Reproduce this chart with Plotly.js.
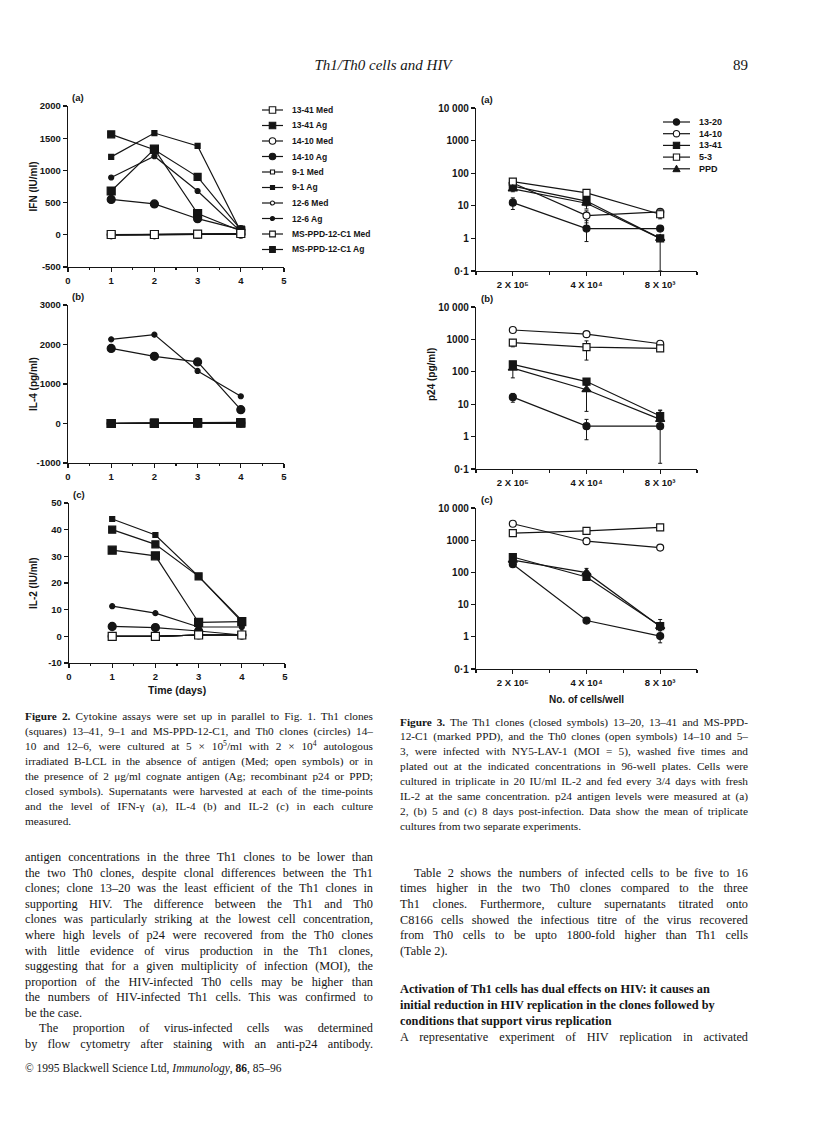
<!DOCTYPE html>
<html>
<head>
<meta charset="utf-8">
<script src="https://cdn.plot.ly/plotly-3.0.1.min.js"></script>
<style>
  body { margin: 0; background: #fff; }
  #page { position: relative; width: 816px; height: 1128px; overflow: hidden; background: #fff; }
  #chart { position: absolute; left: 0; top: 0; width: 816px; height: 1128px; }
  .ln { position: absolute; font-family: "Liberation Serif", "Times New Roman", serif; color: #151515; white-space: nowrap; }
  .jus { white-space: normal; text-align: justify; text-align-last: justify; }
  .ln sup { font-size: 0.68em; line-height: 0; vertical-align: 0.5em; }
</style>
</head>
<body>
<div id="page"><div id="chart"></div></div>
<script>
// ===================== DATA =====================
// Figure 2 : cytokine time course
const days = [1, 2, 3, 4];
const dayTicks = [0, 1, 2, 3, 4, 5];
const fig2Names = ["13-41 Med", "13-41 Ag", "14-10 Med", "14-10 Ag", "9-1 Med", "9-1 Ag",
                   "12-6 Med", "12-6 Ag", "MS-PPD-12-C1 Med", "MS-PPD-12-C1 Ag"];
const ifnValues = [
  [5, 5, 10, 20],
  [680, 1330, 330, 60],
  [0, 0, 5, 10],
  [550, 480, 250, 80],
  [0, 5, 5, 10],
  [1210, 1580, 1380, 50],
  [0, 0, 5, 10],
  [890, 1220, 680, 50],
  [0, 0, 10, 20],
  [1560, 1320, 900, 80]
];
const il4Values = [
  [0, 0, 10, 10],
  [0, 10, 20, 20],
  [0, 0, 10, 10],
  [1900, 1700, 1560, 350],
  [0, 0, 0, 0],
  [0, 10, 20, 20],
  [0, 0, 0, 10],
  [2130, 2250, 1330, 690],
  [0, 0, 10, 10],
  [10, 20, 30, 30]
];
const il2Values = [
  [0, 0, 0.5, 0.5],
  [32.3, 30.2, 5.2, 5.5],
  [0, 0, 0.5, 0.5],
  [3.7, 3.3, 2, 0.5],
  [0, 0, 0.5, 0.5],
  [44, 38, 22.5, 6],
  [0, 0, 0.5, 0.5],
  [11.3, 8.7, 3.5, 3.5],
  [0, 0, 0.5, 0.5],
  [40, 34.5, 22.5, 5.5]
];
const ifnTicks = [-500, 0, 500, 1000, 1500, 2000];
const il4Ticks = [-1000, 0, 1000, 2000, 3000];
const il2Ticks = [-10, 0, 10, 20, 30, 40, 50];
const fig2YTitles = ["IFN (IU/ml)", "IL-4 (pg/ml)", "IL-2 (IU/ml)"];

// Figure 3 : p24 vs cells/well
const cellLabels = ["2 X 10⁵", "4 X 10⁴", "8 X 10³"];
const fig3Names = ["13-20", "14-10", "13-41", "5-3", "PPD"];
const day2Values = [[12.5, 2, 2], [50, 5, 6.5], [40, 14, 1], [55, 25, 5.5], [33, 12, 1]];
const day2ErrPlus = [[5, 1.5, 0], [6, 2, 1], [6, 4, 0], [8, 5, 2], [6, 6, 0]];
const day2ErrMinus = [[4.8, 1.2, 0], [6, 2, 1], [6, 4, 0.9], [8, 5, 1.5], [6, 4, 0]];
const day5Values = [[16.5, 2.1, 2.1], [1950, 1450, 735], [170, 50, 4.3], [790, 580, 530], [130, 28, 3.4]];
const day5ErrPlus = [[5, 1.3, 4.2], [0, 150, 0], [20, 5, 2.3], [200, 320, 0], [0, 10, 0]];
const day5ErrMinus = [[5, 1.3, 1.95], [0, 150, 0], [20, 5, 1], [200, 350, 0], [65, 22, 0]];
const day8Values = [[180, 3.2, 1.05], [3240, 930, 590], [300, 72, 2.15], [1650, 1950, 2500], [240, 98, 2.1]];
const day8ErrPlus = [[0, 0, 0.5], [0, 0, 0], [0, 0, 1.3], [0, 0, 0], [0, 35, 0]];
const day8ErrMinus = [[0, 0, 0.4], [0, 200, 0], [0, 0, 0.6], [0, 0, 0], [0, 0, 0]];
const p24Ticks = [0.1, 1, 10, 100, 1000, 10000];
const p24TickLabels = ["0·1", "1", "10", "100", "1000", "10 000"];

// ===================== STYLE / LAYOUT =====================
const FONT = "Liberation Sans, Arial, Helvetica, sans-serif";
const INK = "#151515";
const W = 816, H = 1128;
const px = v => v / W;
const py = v => 1 - v / H;
const tf = (size) => ({family: FONT, size: size, color: INK, weight: "bold"});

const fig2Symbols = ["square", "square", "circle", "circle", "square", "square", "circle", "circle", "square", "square"];
const fig2Filled = [false, true, false, true, false, true, false, true, false, true];
const fig2Sizes = [8, 8, 8, 8, 5, 5, 5, 5, 7, 7];
const fig2Order = [
  [1, 3, 5, 7, 9, 2, 4, 6, 8, 0],
  [0, 2, 4, 6, 8, 3, 7, 5, 9, 1],
  [1, 3, 5, 7, 9, 2, 4, 6, 8, 0]
];
const fig2Boxes = [{l: 68, r: 284, t: 106, b: 267}, {l: 68, r: 284, t: 305, b: 463}, {l: 69, r: 285, t: 503, b: 663}];

const fig3Symbols = ["circle", "circle", "square", "square", "triangle-up"];
const fig3Filled = [true, false, true, false, true];
const fig3Sizes = [7, 7, 7, 7, 8];
const fig3Boxes = [{l: 476, r: 697, t: 108, b: 271}, {l: 476, r: 697, t: 307, b: 469}, {l: 476, r: 697, t: 508, b: 669}];

const traces = [], shapes = [], annotations = [];
const layout = {
  width: W, height: H, margin: {l: 0, r: 0, t: 0, b: 0},
  paper_bgcolor: "rgba(0,0,0,0)", plot_bgcolor: "rgba(0,0,0,0)",
  showlegend: false, shapes: shapes, annotations: annotations
};

function axisBase() {
  return {
    showline: true, linecolor: INK, linewidth: 1.2,
    ticks: "outside", ticklen: 4, tickwidth: 1.1, tickcolor: INK,
    showgrid: false, zeroline: false, fixedrange: true,
    tickfont: tf(9.5)
  };
}
function note(text, x, y, opts) {
  annotations.push(Object.assign({
    xref: "paper", yref: "paper", x: px(x), y: py(y), text: text, showarrow: false,
    xanchor: "center", yanchor: "middle", font: tf(9.5)
  }, opts || {}));
}

// ---- Figure 2 panels
const fig2Values = [ifnValues, il4Values, il2Values];
const fig2YTicks = [ifnTicks, il4Ticks, il2Ticks];
const panelLetters = ["(a)", "(b)", "(c)"];
fig2Values.forEach((vals, p) => {
  const k = p + 1;
  const xa = k === 1 ? "x" : "x" + k, ya = k === 1 ? "y" : "y" + k;
  const box = fig2Boxes[p];
  const yt = fig2YTicks[p];
  layout["xaxis" + (k === 1 ? "" : k)] = Object.assign(axisBase(), {
    domain: [px(box.l), px(box.r)], anchor: ya, range: [dayTicks[0], dayTicks[dayTicks.length - 1]],
    tickmode: "array", tickvals: dayTicks, ticktext: dayTicks.map(String),
    minor: {tickmode: "linear", tick0: 0.5, dtick: 1, ticks: "outside", ticklen: 2, tickcolor: INK, showgrid: false}
  });
  layout["yaxis" + (k === 1 ? "" : k)] = Object.assign(axisBase(), {
    domain: [py(box.b), py(box.t)], anchor: xa, range: [yt[0], yt[yt.length - 1]],
    tickmode: "array", tickvals: yt, ticktext: yt.map(String)
  });
  fig2Order[p].forEach(i => {
    traces.push({
      type: "scatter", mode: "lines+markers", x: days, y: vals[i], name: fig2Names[i],
      xaxis: xa, yaxis: ya, cliponaxis: false, hoverinfo: "skip",
      line: {color: INK, width: 1.2},
      marker: {symbol: fig2Symbols[i], size: fig2Sizes[i], color: fig2Filled[i] ? INK : "#fff",
               line: {color: INK, width: 1.2}}
    });
  });
  note(panelLetters[p], box.l + 2, box.t - 1, {xanchor: "left", yanchor: "bottom"});
  note(fig2YTitles[p], 33, (box.t + box.b) / 2, {textangle: -90, font: tf(10)});
});
note("Time (days)", 177, 690, {font: tf(10.5)});

// ---- Figure 3 panels
const fig3Values = [day2Values, day5Values, day8Values];
const fig3Plus = [day2ErrPlus, day5ErrPlus, day8ErrPlus];
const fig3Minus = [day2ErrMinus, day5ErrMinus, day8ErrMinus];
const cellX = cellLabels.map((_, i) => i + 1);
fig3Values.forEach((vals, p) => {
  const k = p + 4;
  const xa = "x" + k, ya = "y" + k;
  const box = fig3Boxes[p];
  layout["xaxis" + k] = Object.assign(axisBase(), {
    domain: [px(box.l), px(box.r)], anchor: ya, range: [0.5, cellX.length + 0.5],
    tickmode: "array", tickvals: cellX, ticktext: cellLabels,
    minor: {tickmode: "linear", tick0: 0.5, dtick: 1, ticks: "outside", ticklen: 3, tickcolor: INK, showgrid: false}
  });
  layout["yaxis" + k] = Object.assign(axisBase(), {
    domain: [py(box.b), py(box.t)], anchor: xa, type: "log", range: [-1, 4],
    tickmode: "array", tickvals: p24Ticks, ticktext: p24TickLabels,
    tickfont: tf(10)
  });
  vals.forEach((v, i) => {
    traces.push({
      type: "scatter", mode: "lines+markers", x: cellX, y: v, name: fig3Names[i],
      xaxis: xa, yaxis: ya, cliponaxis: false, hoverinfo: "skip",
      error_y: {type: "data", symmetric: false, array: fig3Plus[p][i], arrayminus: fig3Minus[p][i],
                color: INK, thickness: 1, width: 2},
      line: {color: INK, width: 1.2},
      marker: {symbol: fig3Symbols[i], size: fig3Sizes[i], color: fig3Filled[i] ? INK : "#fff",
               line: {color: INK, width: 1.2}}
    });
  });
  note(panelLetters[p], box.l + 3, box.t - 1, {xanchor: "left", yanchor: "bottom"});
});
note("p24 (pg/ml)", 432, 375, {textangle: -90, font: tf(10)});
note("No. of cells/well", 586, 699, {font: tf(10)});

// ---- Legends (key drawn from the series name / style lists)
function legend(names, symbols, filled, sizes, x0, len, textX, yTop, dy, fsize) {
  names.forEach((n, i) => {
    const yc = yTop + i * dy, cx = x0 + len / 2, s = sizes[i] * 0.45;
    shapes.push({type: "line", xref: "paper", yref: "paper", x0: px(x0), x1: px(x0 + len),
                 y0: py(yc), y1: py(yc), line: {color: INK, width: 1.2}});
    const fill = filled[i] ? INK : "#fff";
    if (symbols[i] === "circle") {
      shapes.push({type: "circle", xref: "paper", yref: "paper", x0: px(cx - s), x1: px(cx + s),
                   y0: py(yc + s), y1: py(yc - s), fillcolor: fill, line: {color: INK, width: 1.1}});
    } else if (symbols[i] === "square") {
      shapes.push({type: "rect", xref: "paper", yref: "paper", x0: px(cx - s), x1: px(cx + s),
                   y0: py(yc + s), y1: py(yc - s), fillcolor: fill, line: {color: INK, width: 1.1}});
    } else {
      const path = "M" + px(cx - s) + "," + py(yc + s * 0.8) + " L" + px(cx + s) + "," + py(yc + s * 0.8) +
                   " L" + px(cx) + "," + py(yc - s) + " Z";
      shapes.push({type: "path", xref: "paper", yref: "paper", path: path, fillcolor: fill, line: {color: INK, width: 1}});
    }
    note(n, textX, yc, {xanchor: "left", font: tf(fsize)});
  });
}
legend(fig2Names, fig2Symbols, fig2Filled, fig2Sizes.map(s => s * 0.9), 262, 21, 290, 110, 15.5, 8.5);
legend(fig3Names, fig3Symbols, fig3Filled, fig3Sizes, 663, 27, 697, 122, 11.7, 9);

Plotly.newPlot("chart", traces, layout, {staticPlot: true, displayModeBar: false});

// ===================== PAGE TEXT =====================
const header = "Th1/Th0 cells and HIV";
const pageNumber = "89";
const fig2Caption = [
  "<b>Figure 2.</b> Cytokine assays were set up in parallel to Fig. 1. Th1 clones",
  "(squares) 13–41, 9–1 and MS-PPD-12-C1, and Th0 clones (circles) 14–",
  "10 and 12–6, were cultured at 5 × 10<sup>5</sup>/ml with 2 × 10<sup>4</sup> autologous",
  "irradiated B-LCL in the absence of antigen (Med; open symbols) or in",
  "the presence of 2 μg/ml cognate antigen (Ag; recombinant p24 or PPD;",
  "closed symbols). Supernatants were harvested at each of the time-points",
  "and the level of IFN-γ (a), IL-4 (b) and IL-2 (c) in each culture",
  "measured."
];
const fig3Caption = [
  "<b>Figure 3.</b> The Th1 clones (closed symbols) 13–20, 13–41 and MS-PPD-",
  "12-C1 (marked PPD), and the Th0 clones (open symbols) 14–10 and 5–",
  "3, were infected with NY5-LAV-1 (MOI = 5), washed five times and",
  "plated out at the indicated concentrations in 96-well plates. Cells were",
  "cultured in triplicate in 20 IU/ml IL-2 and fed every 3/4 days with fresh",
  "IL-2 at the same concentration. p24 antigen levels were measured at (a)",
  "2, (b) 5 and (c) 8 days post-infection. Data show the mean of triplicate",
  "cultures from two separate experiments."
];
const leftBody = [
  "antigen concentrations in the three Th1 clones to be lower than",
  "the two Th0 clones, despite clonal differences between the Th1",
  "clones; clone 13–20 was the least efficient of the Th1 clones in",
  "supporting HIV. The difference between the Th1 and Th0",
  "clones was particularly striking at the lowest cell concentration,",
  "where high levels of p24 were recovered from the Th0 clones",
  "with little evidence of virus production in the Th1 clones,",
  "suggesting that for a given multiplicity of infection (MOI), the",
  "proportion of the HIV-infected Th0 cells may be higher than",
  "the numbers of HIV-infected Th1 cells. This was confirmed to",
  "be the case.",
  "The proportion of virus-infected cells was determined",
  "by flow cytometry after staining with an anti-p24 antibody."
];
const rightBody = [
  "Table 2 shows the numbers of infected cells to be five to 16",
  "times higher in the two Th0 clones compared to the three",
  "Th1 clones. Furthermore, culture supernatants titrated onto",
  "C8166 cells showed the infectious titre of the virus recovered",
  "from Th0 cells to be upto 1800-fold higher than Th1 cells",
  "(Table 2)."
];
const heading = [
  "Activation of Th1 cells has dual effects on HIV: it causes an",
  "initial reduction in HIV replication in the clones followed by",
  "conditions that support virus replication"
];
const rightLast = ["A representative experiment of HIV replication in activated"];
const copyright = "© 1995 Blackwell Science Ltd, <i>Immunology</i>, <b>86</b>, 85–96";

const page = document.getElementById("page");
function addLine(html, x, w, yc, size, lh, opt) {
  opt = opt || {};
  const d = document.createElement("div");
  d.className = "ln" + (opt.justify ? " jus" : "");
  d.innerHTML = html;
  const ind = opt.indent || 0;
  d.style.left = (x + ind) + "px";
  d.style.width = (w - ind) + "px";
  d.style.top = (yc - lh / 2) + "px";
  d.style.lineHeight = lh + "px";
  d.style.fontSize = size + "px";
  if (opt.bold) d.style.fontWeight = "bold";
  if (opt.italic) d.style.fontStyle = "italic";
  if (opt.align) d.style.textAlign = opt.align;
  page.appendChild(d);
  if (opt.justify) {
    let ls = 0;
    while (d.offsetHeight > lh * 1.4 && ls > -1.2) { ls -= 0.05; d.style.letterSpacing = ls + "px"; }
  }
  return d;
}
function addBlock(lines, x, w, y0, dy, size, opt) {
  opt = opt || {};
  lines.forEach((t, i) => {
    const last = (opt.lastLines || [lines.length - 1]).indexOf(i) >= 0;
    addLine(t, x, w, y0 + i * dy, size, dy, {
      justify: !last || opt.justifyAll, indent: (opt.indents || {})[i] || 0, bold: opt.bold
    });
  });
}

const LEFT_X = 25, RIGHT_X = 400, COL_W = 348;
addLine(header, 228, 310, 65, 15, 18, {italic: true, align: "center"});
addLine(pageNumber, 700, RIGHT_X + COL_W - 700, 65, 15, 18, {align: "right"});
addBlock(fig2Caption, LEFT_X, COL_W, 716, 15, 11.3);
addBlock(fig3Caption, RIGHT_X, COL_W, 722, 14.9, 11.3);
addBlock(leftBody, LEFT_X, COL_W, 858, 15.55, 12.3, {lastLines: [10], indents: {11: 14}});
addBlock(rightBody, RIGHT_X, COL_W, 873.5, 15.6, 12.3, {indents: {0: 14}});
addBlock(heading, RIGHT_X, COL_W, 990, 15.9, 12.3, {bold: true, lastLines: [0, 1, 2]});
addBlock(rightLast, RIGHT_X, COL_W, 1038, 15.6, 12.3, {justifyAll: true});
addLine(copyright, LEFT_X, COL_W, 1068, 11.5, 15, {});
</script>
</body>
</html>
